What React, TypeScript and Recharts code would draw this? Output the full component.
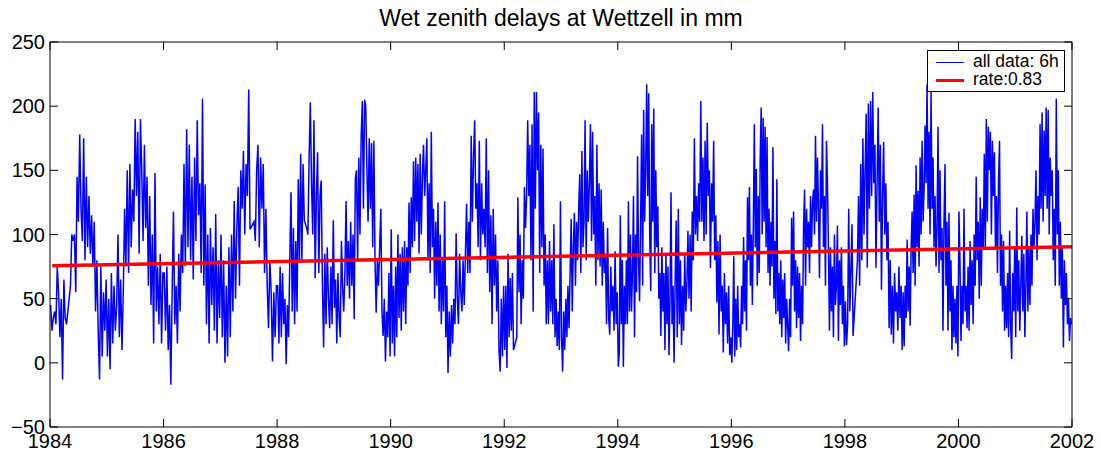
import React from "react";
import { LineChart, Line, XAxis, YAxis } from "recharts";

const years = [1984, 1985, 1986, 1987, 1988, 1989, 1990, 1991, 1992, 1993, 1994, 1995, 1996, 1997, 1998, 1999, 2000, 2001];

const wzd1984 = [45, 25, 35, 40, 30, 75, 55, 20, 50, -13, 65, 35, 30, null, null, 60, 100, 95, 100, 55, 145, 110, 178, 120, 95, 175, 80, 145, 90, 130, 85, 115, 75, 110, 40, 80, 25, -13, 75, 5, 55, 25, 65];
const wzd1985 = [5, 50, -5, 70, 15, 60, 25, 45, 100, 20, 65, 10, 55, 120, 75, 150, 70, 155, 90, 135, 110, 190, 130, 180, 85, 190, 150, 95, 170, 105, 145, 60, 130, 45, 100, 15, 148, 40, 75, 30, 85, 15, 70];
const wzd1986 = [70, 25, 75, 10, 45, -17, 55, 118, 30, 60, 15, 85, 40, 100, 70, 155, 75, 182, 90, 170, 80, 145, 65, 160, 95, 189, 115, 140, 70, 206, 60, 139, 30, 100, 15, 105, 45, 90, 25, 116, 15, 80, 35];
const wzd1987 = [100, 20, 80, 0, 60, 5, 90, 20, 100, 40, 126, 50, 105, 137, 60, 150, 120, 165, 100, 155, 130, 213, 104, null, null, 110, 95, 150, 170, 90, 160, 120, 155, 70, 120, 60, 27, 80, 55, 1, 55, 20, 60];
const wzd1988 = [60, 15, 75, 20, 70, 30, 50, -1, 45, 20, 80, 133, 40, 105, 30, 95, 40, 143, 80, 163, 80, 155, 111, null, 105, 100, 160, 203, 140, 100, 189, 66, 130, 164, 70, 130, 142, 60, 12, 85, 30, 90, 50, 27, 75, 30, 111];
const wzd1989 = [43, 65, 15, 70, 35, 20, 95, 60, 40, 70, 126, 60, 95, 50, 110, 60, 100, 34, 143, 150, 80, 160, 100, 175, 204, 120, 205, 200, 150, 110, 175, 120, 171, 90, 173, 80, 39, 80, 60, 90, 120, 40, 21, 50, 1, 40, 20, 70, 5];
const wzd1990 = [104, 15, 60, 5, 75, 20, 100, 35, 85, 25, 90, 40, 95, 30, 90, 60, 125, 70, 129, 90, 157, 95, 160, 110, 155, 85, 163, 100, 145, 170, 130, 150, 175, 80, 140, 70, 180, 90, 120, 50, 110, 60, 125, 40, 100, 30, 80, 40, 126, 20, 60];
const wzd1991 = [-8, 40, 5, 45, 15, 50, 30, 101, 50, 30, 85, 55, 40, 80, 45, 85, 124, 70, 110, 70, 177, 110, 160, 189, 120, 140, 90, 173, 80, 140, 100, 120, 90, 175, 70, 150, 55, 115, 30, 120, 60, 100, 40, 80, 10, -7, 50, 5, 60];
const wzd1992 = [10, 60, -4, 85, 20, 66, 25, 70, 10, null, null, 20, 129, 55, 100, 30, 80, 50, 137, 105, 130, 189, 130, 170, 80, 186, 40, 211, 120, 211, 150, 195, 70, 170, 90, 167, 60, 100, 30, 80, 30, 95, 40, 80, 30, 108, 20, 50, 13, 40, 10, 126];
const wzd1993 = [20, -7, 40, 10, 50, 20, 60, 27, 70, 112, 40, 90, 117, 60, 110, 80, 120, 147, 70, 165, 90, 110, 189, 80, 150, 110, 140, 186, 95, 180, 100, 130, 60, 170, 80, 140, 75, 135, 60, 110, 70, 85, 30, 105, 35, 22, 75, 40, 60, 25, 87, 30, 55];
const wzd1994 = [-3, 8, 115, 30, 80, -3, 60, 30, 80, 30, 126, 40, 100, 40, 70, 130, 20, 100, 55, 161, 80, 48, 110, 178, 60, 197, 110, 150, 217, 130, 210, 100, 56, 186, 110, 198, 70, 150, 90, 122, 50, 70, 21, 90, 40, 70, 10, 85, 30, 75, 6, 50, 133, 30, 60, 0];
const wzd1995 = [60, 111, 20, 120, 30, 80, 14, 60, 25, 85, 40, 60, 103, 50, 100, 40, 118, 80, 175, 100, 130, 95, 140, 110, 204, 110, 160, 95, 173, 100, 187, 130, 150, 74, 140, 110, 173, 80, 115, 47, 95, 22, 100, 40, 60, 8, 70, 30, 55, 15, 60, 6, 20];
const wzd1996 = [0, 30, 83, 5, 50, 10, 60, 20, 30, 12, 60, 30, 98, 40, 80, 25, 129, 80, 137, 60, 100, 45, 110, 186, 90, 151, 60, 130, 70, 160, 199, 100, 191, 110, 184, 90, 176, 70, 120, 60, 110, 75, 168, 50, 95, 38, 143, 40, 70, 30, 80, 20, 65, 35, 70, 15, 50, 30];
const wzd1997 = [9, 50, 20, 113, 60, 118, 40, 80, 27, 75, 35, 70, 17, 60, 30, 105, 135, 60, 120, 90, 110, 70, 130, 90, 125, 135, 100, 177, 110, 160, 120, 66, 150, 120, 186, 90, 130, 60, 173, 140, 90, 25, 90, 40, 75, 20, 100, 45, 60, 107, 17, 80, 45, 90, 30, 60, 13];
const wzd1998 = [48, 14, 30, 120, 40, 72, 108, 21, null, null, null, 80, 130, 60, 155, 80, 175, 100, 150, 194, 74, 202, 120, 204, 130, 211, 140, 170, 74, 140, 199, 110, 170, 57, 130, 172, 100, 140, 80, 110, 27, 80, 22, 60, 15, 70, 40, 55, 25, 75, 35, 60];
const wzd1999 = [10, 55, 13, 60, 35, 96, 40, 75, 29, 90, 118, 70, 131, 60, 154, 90, 134, 75, 160, 100, 173, 110, 135, 185, 140, 217, 120, 180, 100, 212, 120, 160, 90, 130, 75, 105, 184, 70, 150, 80, 105, 25, 110, 155, 60, 110, 25, 117, 40, 80, 10, 60, 20, 50, 15, 60, 5];
const wzd2000 = [118, 80, 17, 60, 30, 120, 40, 60, 27, 75, 25, 95, 45, 80, 30, 100, 60, 145, 80, 110, 50, 129, 60, 120, 90, 163, 90, 190, 110, 184, 150, 180, 100, 173, 130, 164, 90, 130, 70, 139, 173, 60, 100, 40, 95, 25, 60, 27, 70, 20, 103, 30, 3, 70, 40, 90];
const wzd2001 = [20, 121, 40, 80, 25, 60, 99, 40, 85, 20, 60, 118, 40, 90, 45, 100, 60, 120, 90, 110, 150, 80, 130, 100, 186, 120, 195, 110, 181, 130, 199, 120, 197, 100, 160, 130, 150, 80, 120, 60, 206, 100, 150, 60, 110, 50, 90, 12, 80, 45, 70, 30, 50, 17, 35, 30];

const yearly = [wzd1984, wzd1985, wzd1986, wzd1987, wzd1988, wzd1989, wzd1990, wzd1991, wzd1992, wzd1993, wzd1994, wzd1995, wzd1996, wzd1997, wzd1998, wzd1999, wzd2000, wzd2001];

// linear fit, 0.83 mm/yr
const trendYears = [1984.04, 2002];
const trendValues = [75.6, 90.5];

const xTicks = [1984, 1986, 1988, 1990, 1992, 1994, 1996, 1998, 2000, 2002];
const yTicks = [-50, 0, 50, 100, 150, 200, 250];

const wzdData = yearly.flatMap((vals, k) =>
  vals.map((v, i) => ({ t: years[k] + (i + 0.5) / vals.length, wzd: v }))
);
const trendData = trendYears.map((t, i) => ({ t, trend: trendValues[i] }));

const font = '"Liberation Sans", Arial, sans-serif';
const TICK = 8;

// matlab-style ticks: marks point into the plot
const BottomTick = (p: any) => (
  <g>
    <line x1={p.x} y1={p.y} x2={p.x} y2={p.y - TICK} stroke="#000" />
    <text x={p.x} y={p.y + 21} textAnchor="middle" fontSize={20} fontFamily={font} fill="#000">
      {p.payload.value}
    </text>
  </g>
);
const LeftTick = (p: any) => {
  const v = p.payload.value;
  return (
    <g>
      <line x1={p.x} y1={p.y} x2={p.x + TICK} y2={p.y} stroke="#000" />
      <text x={p.x - 5} y={p.y + 7} textAnchor="end" fontSize={20} fontFamily={font} fill="#000">
        {v < 0 ? "\u2212" + Math.abs(v) : v}
      </text>
    </g>
  );
};
const TopTick = (p: any) => <line x1={p.x} y1={p.y} x2={p.x} y2={p.y + TICK} stroke="#000" />;
const RightTick = (p: any) => <line x1={p.x} y1={p.y} x2={p.x - TICK} y2={p.y} stroke="#000" />;

export default function App() {
  return (
    <div style={{ position: "absolute", left: 0, top: 0, width: 1101, height: 454, background: "#fff" }}>
      <div
        style={{
          position: "absolute",
          left: 0,
          width: 1122,
          top: 5,
          textAlign: "center",
          fontFamily: font,
          fontSize: 23,
          color: "#000",
        }}
      >
        Wet zenith delays at Wettzell in mm
      </div>
      <LineChart width={1101} height={454} margin={{ top: 41, right: 28, bottom: 0, left: 0 }}>
        <XAxis
          xAxisId="b"
          dataKey="t"
          type="number"
          domain={[1984, 2002]}
          ticks={xTicks}
          allowDataOverflow
          height={27}
          stroke="#000"
          tickLine={false}
          tickSize={0}
          tickMargin={0}
          tick={BottomTick}
        />
        <XAxis
          xAxisId="tp"
          orientation="top"
          dataKey="t"
          type="number"
          domain={[1984, 2002]}
          ticks={xTicks}
          allowDataOverflow
          height={1}
          stroke="#000"
          tickLine={false}
          tickSize={0}
          tickMargin={0}
          tick={TopTick}
        />
        <YAxis
          yAxisId="l"
          type="number"
          domain={[-50, 250]}
          ticks={yTicks}
          allowDataOverflow
          width={50}
          stroke="#000"
          tickLine={false}
          tickSize={0}
          tickMargin={0}
          tick={LeftTick}
        />
        <YAxis
          yAxisId="r"
          orientation="right"
          type="number"
          domain={[-50, 250]}
          ticks={yTicks}
          allowDataOverflow
          width={1}
          stroke="#000"
          tickLine={false}
          tickSize={0}
          tickMargin={0}
          tick={RightTick}
        />
        <Line
          xAxisId="b"
          yAxisId="l"
          data={wzdData}
          dataKey="wzd"
          stroke="#0000ff"
          strokeWidth={1.5}
          dot={false}
          connectNulls
          isAnimationActive={false}
        />
        <Line
          xAxisId="tp"
          yAxisId="r"
          data={trendData}
          dataKey="trend"
          stroke="#ff0000"
          strokeWidth={3.5}
          dot={false}
          isAnimationActive={false}
        />
      </LineChart>
      <div
        style={{
          position: "absolute",
          left: 927,
          top: 50,
          width: 136,
          height: 40,
          border: "1px solid #000",
          background: "#fff",
          fontFamily: font,
          fontSize: 17.5,
          color: "#000",
        }}
      >
        <div style={{ position: "absolute", left: 8, top: 11, width: 28, borderTop: "1px solid #0000ff" }} />
        <div style={{ position: "absolute", left: 45, top: 1, lineHeight: "19px" }}>all data: 6h</div>
        <div style={{ position: "absolute", left: 8, top: 28, width: 28, borderTop: "3px solid #ff0000" }} />
        <div style={{ position: "absolute", left: 45, top: 19, lineHeight: "19px" }}>rate:0.83</div>
      </div>
    </div>
  );
}
